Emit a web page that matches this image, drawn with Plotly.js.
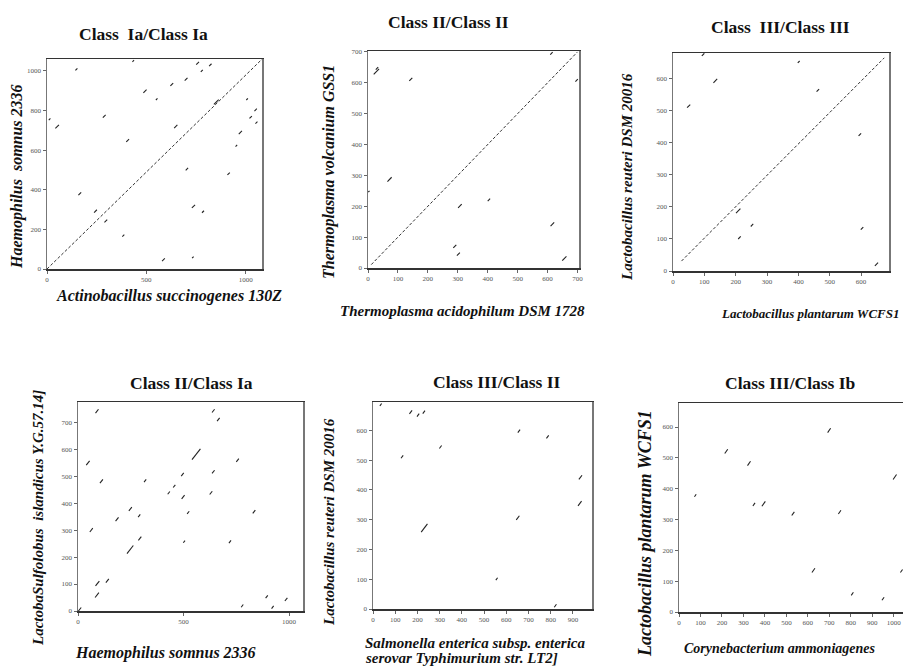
<!DOCTYPE html>
<html>
<head>
<meta charset="utf-8">
<script src="https://cdn.plot.ly/plotly-3.0.1.min.js"></script>
<style>html,body{margin:0;padding:0;background:#fff}#chart{width:903px;height:666px}</style>
</head>
<body>
<div id="chart"></div>
<script>
// ---------- DATA ----------
// Panel 1: Actinobacillus succinogenes 130Z (x) vs Haemophilus somnus 2336 (y)
const p1_range = [1082, 1060];
const p1_diag_x = [0, 1082];
const p1_diag_y = [0, 1059];
const p1_cx = [148, 434, 758, 779, 822, 700, 628, 493, 552, 852, 1007, 1050, 1025, 1054, 973, 953, 914, 704, 288, 51, 13, 648, 406, 165, 244, 296, 384, 737, 785, 586, 734];
const p1_cy = [1008, 1050, 1039, 1000, 1030, 958, 931, 897, 857, 843, 857, 803, 766, 739, 689, 622, 481, 504, 771, 719, 756, 719, 649, 380, 292, 242, 168, 316, 289, 47, 59];
const p1_len = [10, 8, 14, 10, 12, 14, 14, 16, 8, 24, 8, 12, 12, 10, 16, 8, 12, 12, 14, 18, 8, 16, 14, 14, 14, 14, 10, 16, 10, 14, 8];

// Panel 2: Thermoplasma acidophilum DSM 1728 (x) vs Thermoplasma volcanium GSS1 (y)
const p2_range = [705, 703];
const p2_diag_x = [11, 700];
const p2_diag_y = [11, 700];
const p2_cx = [28, 30, 143, 72, 3, 307, 404, 290, 302, 616, 656, 613, 697];
const p2_cy = [636, 647, 611, 287, 248, 201, 221, 70, 45, 142, 31, 695, 608];
const p2_len = [18, 8, 10, 14, 4, 12, 8, 10, 10, 12, 14, 8, 8];

// Panel 3: Lactobacillus plantarum WCFS1 (x) vs Lactobacillus reuteri DSM 20016 (y)
const p3_range = [689, 681];
const p3_diag_x = [27, 674];
const p3_diag_y = [31, 666];
const p3_cx = [96, 135, 50, 401, 462, 596, 208, 252, 212, 603, 649];
const p3_cy = [676, 594, 515, 653, 564, 426, 188, 143, 104, 133, 21];
const p3_len = [8, 12, 10, 6, 8, 8, 14, 8, 8, 8, 10];

// Panel 4: Haemophilus somnus 2336 (x) vs Sulfolobus islandicus Y.G.57.14 (y)
const p4_range = [1066, 775];
const p4_cx = [90, 641, 665, 560, 47, 756, 641, 495, 111, 318, 456, 430, 498, 630, 248, 522, 834, 185, 290, 63, 293, 247, 503, 720, 92, 139, 90, 8, 778, 894, 922, 986];
const p4_cy = [741, 742, 710, 581, 549, 559, 516, 506, 481, 483, 463, 438, 423, 438, 378, 365, 368, 340, 353, 300, 269, 228, 257, 257, 102, 112, 59, 6, 19, 53, 14, 43];
const p4_len = [14, 12, 12, 40, 16, 12, 12, 12, 14, 10, 10, 10, 14, 12, 14, 10, 12, 14, 10, 14, 14, 30, 8, 10, 18, 14, 18, 14, 10, 10, 10, 12];

// Panel 5: Salmonella enterica Typhimurium LT2 (x) vs Lactobacillus reuteri DSM 20016 (y)
const p5_range = [986, 695];
const p5_cx = [35, 170, 203, 229, 131, 304, 657, 786, 934, 931, 231, 652, 557, 821];
const p5_cy = [686, 661, 651, 661, 511, 544, 597, 578, 442, 354, 272, 306, 101, 11];
const p5_len = [8, 12, 10, 10, 10, 10, 10, 10, 14, 16, 28, 14, 8, 10];

// Panel 6: Corynebacterium ammoniagenes (x) vs Lactobacillus plantarum WCFS1 (y)
const p6_range = [1043, 678];
const p6_cx = [699, 220, 326, 76, 349, 394, 531, 748, 1005, 626, 807, 950, 1036];
const p6_cy = [589, 521, 482, 378, 349, 351, 319, 324, 438, 135, 59, 43, 133];
const p6_len = [14, 14, 14, 8, 10, 16, 12, 12, 16, 14, 10, 10, 10];

const titles = ["Class  Ia/Class Ia", "Class II/Class II", "Class  III/Class III",
                "Class II/Class Ia", "Class III/Class II", "Class III/Class Ib"];
const xLabels = ["Actinobacillus succinogenes 130Z", "Thermoplasma acidophilum DSM 1728",
                 "Lactobacillus plantarum WCFS1", "Haemophilus somnus 2336",
                 "Salmonella enterica subsp. enterica|serovar Typhimurium str. LT2]",
                 "Corynebacterium ammoniagenes"];
const yLabels = ["Haemophilus  somnus 2336", "Thermoplasma volcanium GSS1",
                 "Lactobacillus reuteri DSM 20016", "LactobaSulfolobus  islandicus Y.G.57.14]",
                 "Lactobacillus reuteri DSM 20016", "Lactobacillus plantarum WCFS1"];
const xTickStep = [500, 100, 100, 500, 100, 100];
const yTickStep = [200, 100, 100, 100, 100, 100];

// ---------- LAYOUT (pixel geometry) ----------
const W = 903, H = 666;
const boxes = [ // [left, right, top, bottom] in px
  [47, 262, 59, 269], [368, 579, 51, 268], [673, 889, 53, 271],
  [78, 303, 402, 611], [373, 592, 402, 609], [679, 903, 403, 612]
];
const titlePos = [[143, 34], [448, 22], [780, 27], [191, 383], [497, 382], [790, 383]];
const titleSize = [17.5, 17.5, 17.5, 17.5, 17.5, 17.5];
const yLabPos = [[17, 177], [329, 172], [627, 177], [38, 518], [329, 522], [645, 534]];
const yLabSize = [16, 16, 15, 15, 15, 18];
const xLabPos = [[169, 296], [462, 311], [810, 313], [165, 653], [363, 643], [780, 648]];
const xLabSize = [16, 15, 13, 16, 15, 14];
const xLabLineGap = 15;

const ranges = [p1_range, p2_range, p3_range, p4_range, p5_range, p6_range];
const segs = [[p1_cx, p1_cy, p1_len], [p2_cx, p2_cy, p2_len], [p3_cx, p3_cy, p3_len],
              [p4_cx, p4_cy, p4_len], [p5_cx, p5_cy, p5_len], [p6_cx, p6_cy, p6_len]];
const diags = [[p1_diag_x, p1_diag_y], [p2_diag_x, p2_diag_y], [p3_diag_x, p3_diag_y], null, null, null];

const traces = [];
const layout = {
  width: W, height: H, margin: {l: 0, r: 0, t: 0, b: 0},
  paper_bgcolor: '#fff', plot_bgcolor: '#fff', showlegend: false,
  annotations: []
};
const serif = 'Liberation Serif, Times New Roman, serif';

for (let i = 0; i < 6; i++) {
  const n = i + 1;
  const xa = n === 1 ? 'x' : 'x' + n;
  const ya = n === 1 ? 'y' : 'y' + n;
  const b = boxes[i];
  const [cx, cy, ln] = segs[i];
  const sx = [], sy = [];
  for (let k = 0; k < cx.length; k++) {
    sx.push(cx[k] - ln[k] / 2, cx[k] + ln[k] / 2, null);
    sy.push(cy[k] - ln[k] / 2, cy[k] + ln[k] / 2, null);
  }
  if (diags[i]) {
    traces.push({type: 'scatter', mode: 'lines', x: diags[i][0], y: diags[i][1], xaxis: xa, yaxis: ya,
      line: {color: '#333', width: 1, dash: '3px,2px'}, hoverinfo: 'skip'});
  }
  traces.push({type: 'scatter', mode: 'lines', x: sx, y: sy, xaxis: xa, yaxis: ya,
    line: {color: '#222', width: 1.1}, hoverinfo: 'skip', connectgaps: false});

  const axCommon = {
    showgrid: false, zeroline: false, showline: true, linewidth: 1.5,
    ticks: 'outside', ticklen: 3, tickwidth: 1, tickcolor: '#666',
    tickfont: {family: serif, size: 7, color: '#555'}, fixedrange: true
  };
  layout['xaxis' + (n === 1 ? '' : n)] = Object.assign({}, axCommon, {
    domain: [b[0] / W, b[1] / W], range: [0, ranges[i][0]], anchor: ya,
    dtick: xTickStep[i], tick0: 0, mirror: true, linecolor: '#333'
  });
  layout['yaxis' + (n === 1 ? '' : n)] = Object.assign({}, axCommon, {
    domain: [1 - b[3] / H, 1 - b[2] / H], range: [0, ranges[i][1]], anchor: xa,
    dtick: yTickStep[i], tick0: 0, mirror: i === 5 ? false : true, linecolor: '#777'
  });

  layout.annotations.push({xref: 'paper', yref: 'paper', x: titlePos[i][0] / W, y: 1 - titlePos[i][1] / H,
    text: '<b>' + titles[i] + '</b>', showarrow: false, xanchor: 'center', yanchor: 'middle',
    font: {family: serif, size: titleSize[i], color: '#111'}});
  layout.annotations.push({xref: 'paper', yref: 'paper', x: yLabPos[i][0] / W, y: 1 - yLabPos[i][1] / H,
    text: '<b><i>' + yLabels[i] + '</i></b>', showarrow: false, textangle: -90, xanchor: 'center', yanchor: 'middle',
    font: {family: serif, size: yLabSize[i], color: '#111'}});
  const lines = xLabels[i].split('|');
  lines.forEach((t, j) => {
    layout.annotations.push({xref: 'paper', yref: 'paper', x: xLabPos[i][0] / W,
      y: 1 - (xLabPos[i][1] + j * xLabLineGap) / H,
      text: '<b><i>' + t + '</i></b>', showarrow: false,
      xanchor: lines.length > 1 ? 'left' : 'center', yanchor: 'middle',
      font: {family: serif, size: xLabSize[i], color: '#111'}});
  });
}

Plotly.newPlot('chart', traces, layout, {staticPlot: true, displayModeBar: false});
</script>
</body>
</html>
